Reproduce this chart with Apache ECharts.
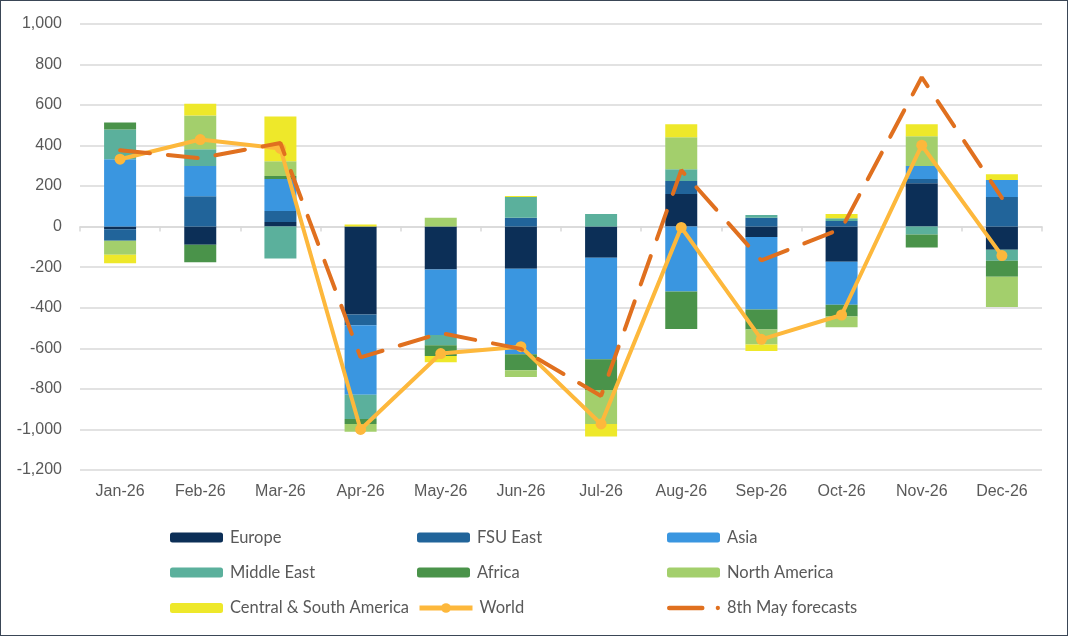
<!DOCTYPE html>
<html>
<head>
<meta charset="utf-8">
<script src="https://cdn.jsdelivr.net/npm/echarts@6/dist/echarts.min.js"></script>
<style>
html,body{margin:0;padding:0;background:#fff;}
#c{width:1066px;height:634px;border:1px solid #3a4656;}
</style>
</head>
<body>
<div id="c"></div>
<script>
const months = ['Jan-26','Feb-26','Mar-26','Apr-26','May-26','Jun-26','Jul-26','Aug-26','Sep-26','Oct-26','Nov-26','Dec-26'];
const europe       = [-13, -90,  23, -433, -212, -208, -154, 160,  -51, -173, 214, -114];
const fsuEast      = [-57, 150,  54,  -54,    0,   43,    0,  64,   43,   28,  20,  146];
const asia         = [332, 148, 157, -342, -323, -422, -500, -320, -358, -213, 64,  83];
const middleEast   = [147,  83, -158, -120, -50,  103,   62,  59,   14,   13, -39, -54];
const africa       = [ 34, -86,  15,  -24,  -53,  -78, -152, -185, -98,  -57, -64, -79];
const northAmerica = [-69, 167,  73,  -38,   43,  -33, -167, 157,  -74,  -53, 147, -150];
const csAmerica    = [-42,  57, 221,   10,  -31,    5,  -62,  64,  -32,   21,  59,  29];
const world        = [332, 429, 385, -1000, -626, -592, -973, -4, -556, -436, 401, -143];
const forecast8May = [376, 337, 412, -645, -525, -603, -835, 278, -167, -10, 736, 141];
const yTicks = {min: -1200, max: 1000, interval: 200};

const barSeries = [
  ['Europe', europe, '#0c2f57'],
  ['FSU East', fsuEast, '#21649a'],
  ['Asia', asia, '#3a96e0'],
  ['Middle East', middleEast, '#5bb09c'],
  ['Africa', africa, '#4a934a'],
  ['North America', northAmerica, '#a3cf6c'],
  ['Central & South America', csAmerica, '#eee82a']
];

const chart = echarts.init(document.getElementById('c'));
const series = barSeries.map(([name, data, color]) => ({
  name, type: 'bar', stack: 'total', data, barWidth: 32,
  itemStyle: {color}, emphasis: {disabled: true}
}));
series.push({
  name: 'World', type: 'line', data: world, z: 5,
  lineStyle: {color: '#fdb83c', width: 4}, itemStyle: {color: '#fdb83c'},
  symbol: 'circle', symbolSize: 11
});
series.push({
  name: '8th May forecasts', type: 'line', data: forecast8May, z: 6,
  lineStyle: {color: '#e0701f', width: 4, type: [30, 18], cap: 'round'},
  itemStyle: {color: '#e0701f'}, symbol: 'none'
});

const dashIcon = 'path://M0,0 M52,10 M-1,2.5 L34,2.5 A2.5,2.5 0 0 1 34,7.5 L-1,7.5 A2.5,2.5 0 0 1 -1,2.5 Z M53,5 A2.3,2.3 0 1 1 48.4,5 A2.3,2.3 0 1 1 53,5 Z';
const legendFont = {fontFamily: 'Lato, "Liberation Sans", sans-serif', fontSize: 16.5, color: '#595959', padding: [0, 0, 0, 2]};
const cols = [169, 416, 666];
const rows = [528, 563, 598.5];
const names = ['Europe','FSU East','Asia','Middle East','Africa','North America','Central & South America','World','8th May forecasts'];
const legends = names.map((n, i) => ({
  data: [n === '8th May forecasts' ? {name: n, icon: dashIcon} : n],
  left: cols[i % 3], top: rows[Math.floor(i / 3)], padding: 0,
  itemWidth: 53, itemHeight: n === 'World' ? 12 : 10, itemGap: 0, textStyle: legendFont,
  lineStyle: {width: 5}, selectedMode: false
}));

chart.setOption({
  animation: false,
  grid: {left: 79, right: 25, top: 22.7, bottom: 165},
  legend: legends,
  xAxis: [
    {type: 'category', data: months, axisLine: {show: false, onZero: false}, axisTick: {show: false},
     axisLabel: {color: '#595959', fontSize: 16, margin: 14, fontFamily: '"Liberation Sans", Arial, sans-serif'}},
    {type: 'category', data: months, position: 'bottom',
     axisLine: {show: true, onZero: true, lineStyle: {color: '#d9d9d9', width: 1.5}},
     axisTick: {show: true, length: 5, lineStyle: {color: '#d9d9d9', width: 1.5}},
     axisLabel: {show: false}}
  ],
  yAxis: {
    type: 'value', min: yTicks.min, max: yTicks.max, interval: yTicks.interval,
    axisLine: {show: false}, axisTick: {show: false},
    splitLine: {lineStyle: {color: '#d9d9d9', width: 1.5}},
    axisLabel: {color: '#595959', fontSize: 16, margin: 18, fontFamily: '"Liberation Sans", Arial, sans-serif',
      formatter: v => v.toLocaleString('en-US')}
  },
  series
});
</script>
</body>
</html>
